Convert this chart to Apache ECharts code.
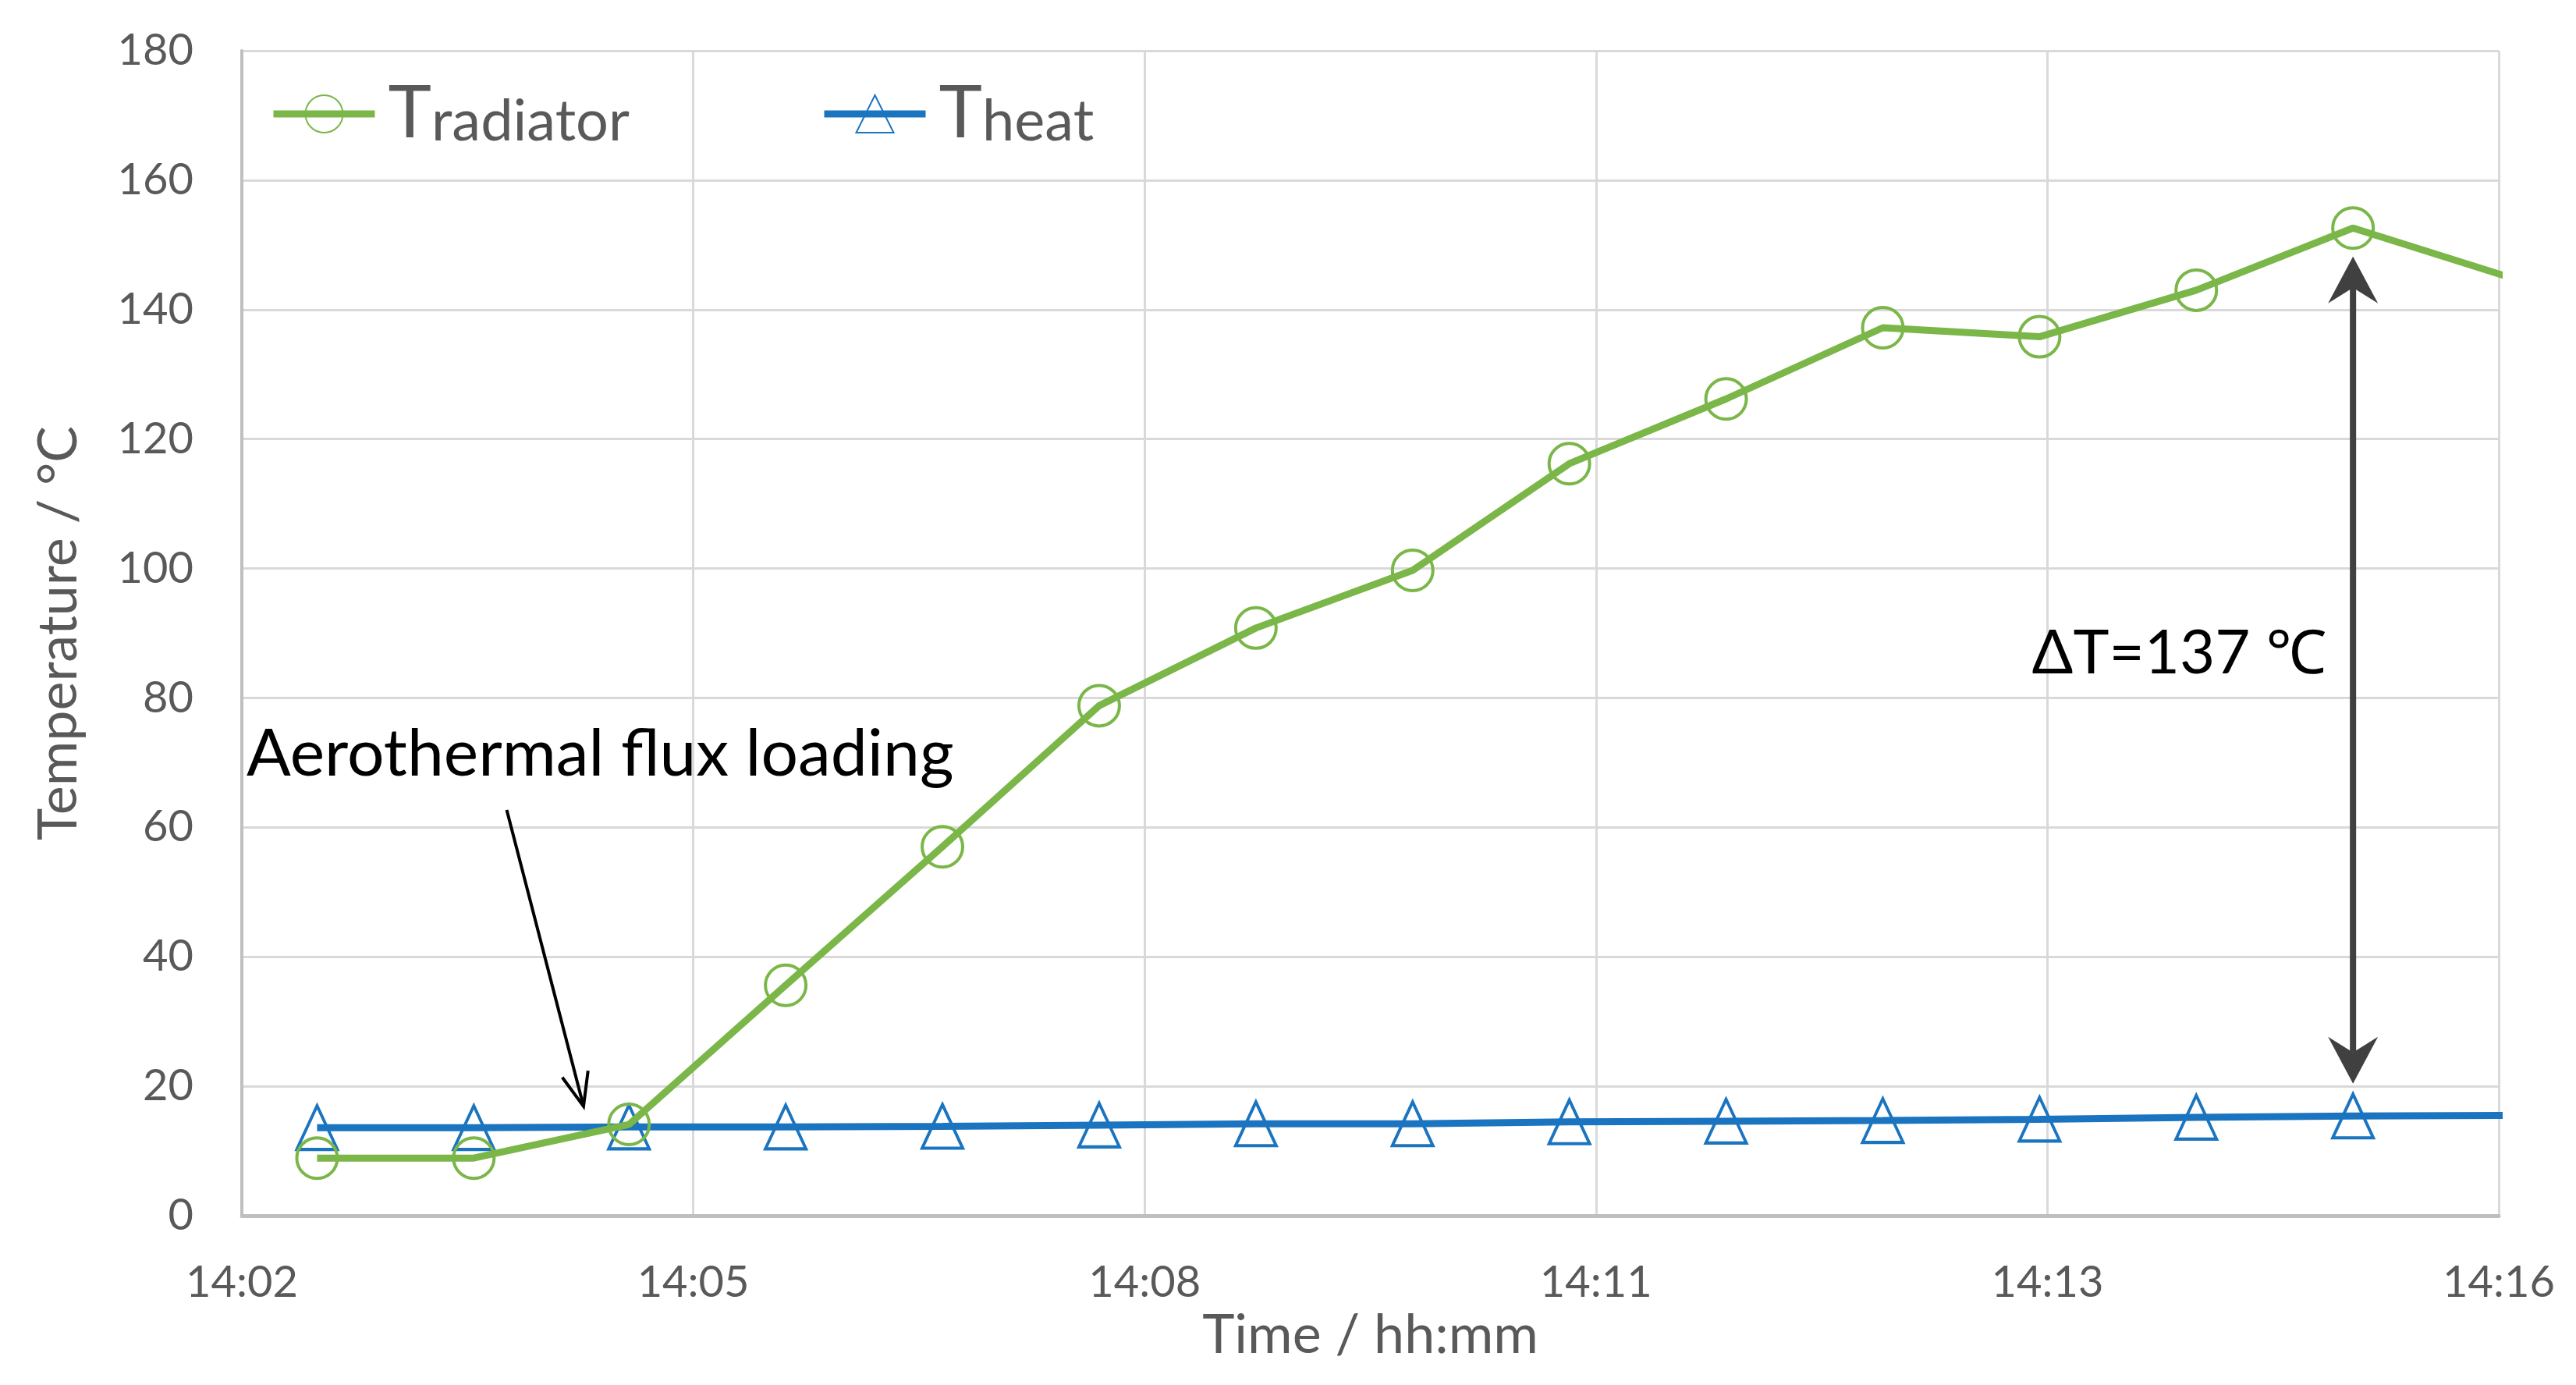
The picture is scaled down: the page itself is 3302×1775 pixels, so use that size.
<!DOCTYPE html>
<html>
<head>
<meta charset="utf-8">
<script src="https://cdn.jsdelivr.net/npm/echarts@6/dist/echarts.min.js"></script>
<style>
html, body { margin: 0; padding: 0; background: #fff; }
#chart { width: 3302px; height: 1775px; }
</style>
</head>
<body>
<div id="chart"></div>
<script>
// minutes elapsed since the 14:02 tick (last sample lies just past the axis end)
const minutes = [0.48, 1.48, 2.47, 3.47, 4.47, 5.47, 6.47, 7.47, 8.47, 9.47, 10.47, 11.47, 12.47, 13.47, 14.48]
const tRadiator = [8.9, 8.9, 14.1, 35.6, 57.0, 78.8, 90.8, 99.7, 116.2, 126.2, 137.2, 135.8, 143.0, 152.6, 144.9]
const tHeat = [13.6, 13.6, 13.7, 13.7, 13.8, 14.0, 14.2, 14.2, 14.5, 14.6, 14.7, 14.9, 15.2, 15.4, 15.5]
const xTickLabels = ['14:02', '14:05', '14:08', '14:11', '14:13', '14:16']
const xStep = 2.88

const green = '#7ab648'
const blue = '#1a74c0'
const grey = '#595959'
const font = 'Lato, "Noto Sans", "Noto Sans CJK SC", sans-serif'

const pairs = (xs, ys) => xs.map((x, i) => [x, ys[i]])

const chart = echarts.init(document.getElementById('chart'))

const legendCommon = {
    orient: 'horizontal',
    itemWidth: 130,
    itemHeight: 60,
    top: 94,
    formatter: (n) => '{b|' + n[0] + '}{s|' + n.slice(1) + '}',
    lineStyle: { width: 9 },
    textStyle: {
        padding: [0, 0, 0, 12],
        rich: {
            b: { fontSize: 94, color: grey, fontFamily: font, verticalAlign: 'bottom', lineHeight: 94 },
            s: { fontSize: 74, color: grey, fontFamily: font, verticalAlign: 'bottom', lineHeight: 94 }
        }
    }
}

chart.setOption({
    animation: false,
    backgroundColor: '#fff',
    textStyle: { fontFamily: font },
    grid: { left: 310, right: 99, top: 65, bottom: 217 },
    legend: [
        Object.assign({}, legendCommon, { left: 341, data: ['Tradiator'] }),
        Object.assign({}, legendCommon, { left: 1047, data: ['Theat'] })
    ],
    xAxis: {
        type: 'value',
        min: 0,
        max: xStep * 5,
        interval: xStep,
        name: 'Time / hh:mm',
        nameLocation: 'middle',
        nameGap: 108,
        nameTextStyle: { fontSize: 70, color: grey, fontFamily: font },
        axisLine: { show: true, lineStyle: { color: '#bfbfbf', width: 5 } },
        axisTick: { show: false },
        axisLabel: {
            fontSize: 56,
            color: grey,
            margin: 58,
            formatter: (v) => xTickLabels[Math.round(v / xStep)]
        },
        splitLine: { show: true, lineStyle: { color: '#d9d9d9', width: 3 } }
    },
    yAxis: {
        type: 'value',
        min: 0,
        max: 180,
        interval: 20,
        name: 'Temperature / °C',
        nameLocation: 'middle',
        nameGap: 200,
        nameTextStyle: { fontSize: 70, color: grey, fontFamily: font },
        axisLine: { show: true, lineStyle: { color: '#bfbfbf', width: 4 } },
        axisTick: { show: false },
        axisLabel: { fontSize: 56, color: grey, margin: 62 },
        splitLine: { show: true, lineStyle: { color: '#d9d9d9', width: 3 } }
    },
    series: [
        {
            name: 'Theat',
            type: 'line',
            data: pairs(minutes, tHeat),
            clip: true,
            symbol: 'triangle',
            symbolSize: [52, 56],
            itemStyle: { color: 'rgba(255,255,255,0)', borderColor: blue, borderWidth: 4 },
            lineStyle: { color: blue, width: 9 },
            z: 2
        },
        {
            name: 'Tradiator',
            type: 'line',
            data: pairs(minutes, tRadiator),
            clip: true,
            symbol: 'circle',
            symbolSize: 52,
            itemStyle: { color: 'rgba(255,255,255,0)', borderColor: green, borderWidth: 4 },
            lineStyle: { color: green, width: 9 },
            z: 3
        }
    ]
})

// annotations, anchored in data units
const fluxNote = { text: 'Aerothermal flux loading', at: [0.03, 71.3], from: [1.69, 62.7], to: [2.18, 16.9] }
const deltaNote = { text: 'ΔT=137 ℃', at: [13.3, 86.8], x: minutes[13], top: 148.2, bottom: 20.4 }

const px = (p) => chart.convertToPixel({ gridIndex: 0 }, p)

const a0 = px(fluxNote.from)
const a1 = px(fluxNote.to)
const ang = Math.atan2(a1[1] - a0[1], a1[0] - a0[0])
const head = (da) => [a1[0] - 46 * Math.cos(ang + da), a1[1] - 46 * Math.sin(ang + da)]

const dTop = px([deltaNote.x, deltaNote.top])
const dBot = px([deltaNote.x, deltaNote.bottom])
const tn = px(fluxNote.at)
const td = px(deltaNote.at)

chart.setOption({
    graphic: [
        {
            type: 'text',
            x: tn[0], y: tn[1],
            style: { text: fluxNote.text, fontSize: 84, fontFamily: font, fill: '#000', align: 'left', verticalAlign: 'middle' },
            z: 10
        },
        {
            type: 'line',
            shape: { x1: a0[0], y1: a0[1], x2: a1[0], y2: a1[1] },
            style: { stroke: '#000', lineWidth: 4 },
            z: 10
        },
        {
            type: 'polyline',
            shape: { points: [head(0.38), a1, head(-0.38)] },
            style: { stroke: '#000', lineWidth: 4, fill: null },
            z: 10
        },
        {
            type: 'line',
            shape: { x1: dTop[0], y1: dTop[1] + 40, x2: dBot[0], y2: dBot[1] - 40 },
            style: { stroke: '#404040', lineWidth: 8 },
            z: 10
        },
        {
            type: 'polygon',
            shape: { points: [dTop, [dTop[0] - 32, dTop[1] + 60], [dTop[0], dTop[1] + 40], [dTop[0] + 32, dTop[1] + 60]] },
            style: { fill: '#404040' },
            z: 10
        },
        {
            type: 'polygon',
            shape: { points: [dBot, [dBot[0] - 32, dBot[1] - 60], [dBot[0], dBot[1] - 40], [dBot[0] + 32, dBot[1] - 60]] },
            style: { fill: '#404040' },
            z: 10
        },
        {
            type: 'text',
            x: td[0], y: td[1],
            style: { text: deltaNote.text, fontSize: 78, fontFamily: font, fill: '#000', align: 'right', verticalAlign: 'middle' },
            z: 10
        }
    ]
})
</script>
</body>
</html>
